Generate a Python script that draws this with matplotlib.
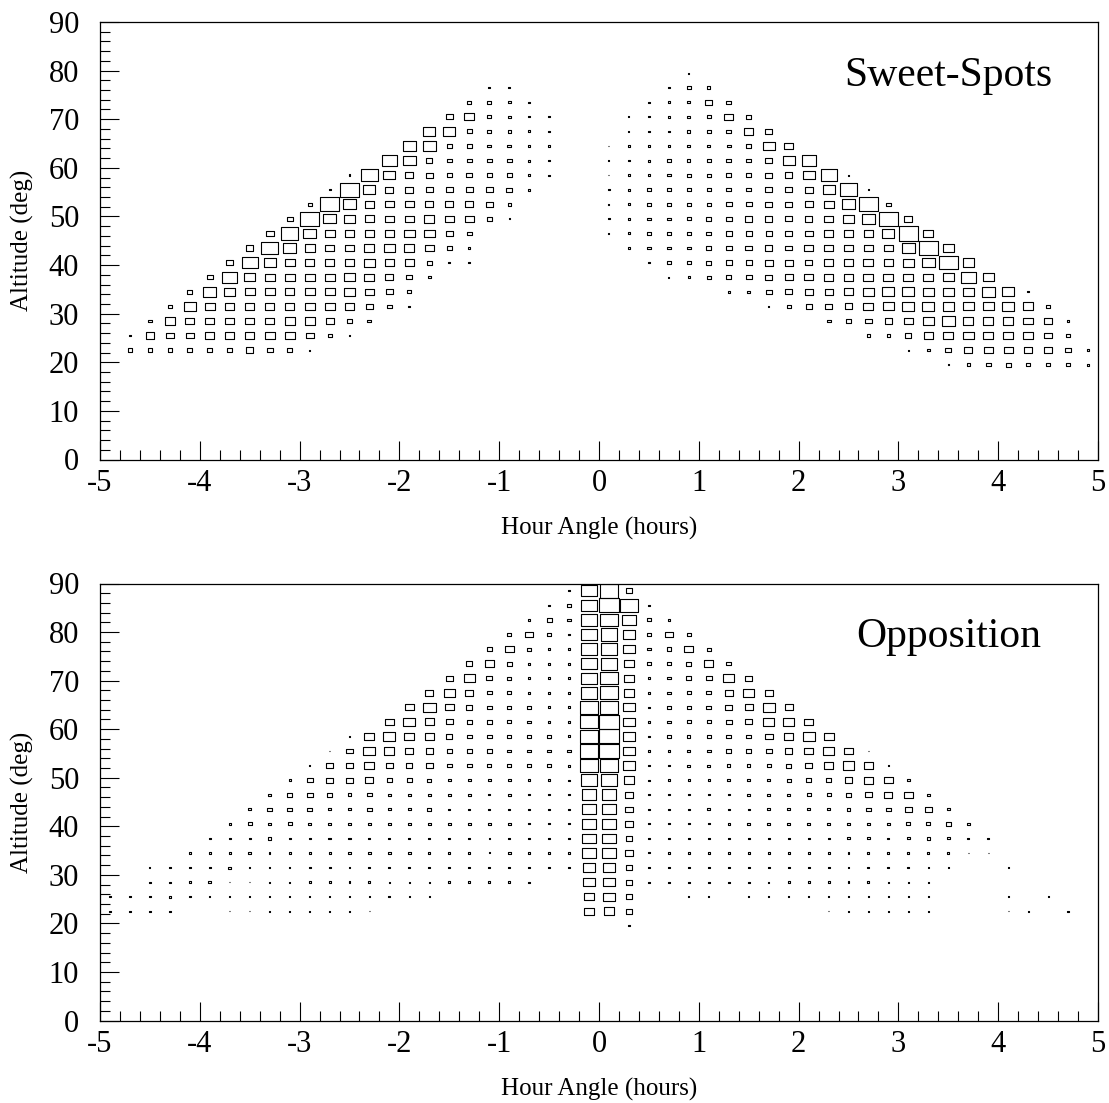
import matplotlib
matplotlib.use("Agg")
import matplotlib.pyplot as plt
from matplotlib.patches import Rectangle
from matplotlib.collections import PatchCollection
from matplotlib.ticker import MultipleLocator

plt.rcParams['font.family'] = ['Liberation Serif', 'DejaVu Serif']
plt.rcParams['axes.unicode_minus'] = False

# Bin geometry of the 2-D histograms
BIN_X = 0.2   # hours
BIN_Y = 3.0   # degrees
VMAX = 60.0   # content that fills a whole bin

# Each segment: (altitude bin centre, first hour-angle bin centre, contents...)
sweet_segments = [
    (19.5, 3.5, [2, 10, 14, 16, 14, 14, 14, 8]),
    (22.5, -4.7, [14, 14, 14, 14, 16, 16, 22, 18, 14, 5]),
    (22.5, 3.1, [5, 10, 18, 24, 26, 26, 24, 24, 18, 6]),
    (25.5, -4.7, [6, 26, 24, 24, 26, 26, 26, 30, 30, 24, 12, 6]),
    (25.5, 2.7, [10, 10, 18, 26, 30, 32, 30, 30, 28, 24, 12]),
    (28.5, -4.5, [12, 30, 26, 28, 26, 28, 28, 30, 30, 24, 18, 12]),
    (28.5, 2.3, [12, 16, 20, 22, 28, 32, 38, 30, 30, 30, 28, 26, 6]),
    (31.5, -4.3, [12, 36, 30, 28, 28, 28, 28, 30, 30, 26, 22, 14, 6]),
    (31.5, 1.7, [3, 12, 18, 22, 24, 30, 32, 36, 36, 34, 32, 32, 36, 32, 10]),
    (34.5, -4.1, [16, 40, 32, 30, 30, 28, 30, 30, 32, 26, 20, 12]),
    (34.5, 1.3, [6, 10, 18, 20, 24, 24, 30, 32, 36, 36, 32, 32, 32, 40, 36, 5]),
    (37.5, -3.9, [18, 44, 34, 30, 30, 30, 30, 32, 30, 24, 18, 10]),
    (37.5, 0.7, [3, 6, 12, 16, 18, 22, 24, 26, 28, 30, 30, 30, 30, 30, 34, 46, 34]),
    (40.5, -3.7, [20, 48, 36, 30, 28, 28, 30, 32, 28, 26, 16, 6, 6]),
    (40.5, 0.5, [5, 12, 12, 16, 18, 18, 24, 24, 22, 26, 28, 30, 28, 32, 38, 56, 34]),
    (43.5, -3.5, [22, 50, 38, 30, 28, 28, 30, 32, 30, 26, 14, 6]),
    (43.5, 0.3, [5, 10, 12, 12, 14, 18, 20, 22, 20, 26, 26, 28, 26, 28, 40, 56, 34]),
    (46.5, -3.3, [24, 52, 38, 30, 28, 28, 26, 32, 32, 22, 14]),
    (46.5, 0.1, [3, 8, 10, 12, 12, 14, 18, 18, 18, 22, 24, 26, 28, 28, 36, 58, 30]),
    (49.5, -3.1, [18, 56, 38, 32, 28, 26, 26, 30, 26, 26, 14, 4]),
    (49.5, 0.1, [4, 8, 10, 10, 12, 14, 18, 22, 22, 20, 22, 26, 32, 40, 58, 24]),
    (52.5, -2.9, [12, 56, 40, 28, 26, 26, 24, 24, 24, 22, 10]),
    (52.5, 0.1, [3, 8, 10, 10, 12, 12, 18, 18, 20, 20, 24, 30, 40, 56, 14]),
    (55.5, -2.7, [6, 56, 36, 24, 24, 22, 20, 22, 20, 18, 8]),
    (55.5, 0.1, [4, 8, 10, 10, 12, 12, 14, 14, 20, 20, 24, 36, 52, 5]),
    (58.5, -2.5, [6, 52, 36, 24, 20, 16, 18, 16, 16, 8, 5]),
    (58.5, 0.1, [3, 6, 8, 10, 12, 12, 14, 16, 20, 22, 36, 48, 4]),
    (61.5, -2.1, [44, 38, 18, 14, 14, 14, 14, 8, 5]),
    (61.5, 0.1, [3, 5, 8, 10, 10, 12, 14, 14, 22, 36, 42]),
    (64.5, -1.9, [38, 38, 16, 14, 12, 12, 8, 5]),
    (64.5, 0.1, [3, 5, 6, 6, 8, 8, 12, 14, 36, 28]),
    (67.5, -1.7, [36, 36, 16, 12, 10, 8, 5]),
    (67.5, 0.3, [3, 5, 6, 10, 12, 14, 28, 22]),
    (70.5, -1.5, [20, 30, 12, 10, 5, 4]),
    (70.5, 0.3, [3, 5, 6, 10, 12, 26, 16]),
    (73.5, -1.3, [12, 12, 8, 5]),
    (73.5, 0.5, [4, 8, 10, 22, 14]),
    (76.5, -1.1, [5, 6]),
    (76.5, 0.7, [4, 12, 10]),
    (79.5, 0.9, [4]),
]

opposition_segments = [
    (19.5, 0.3, [5]),
    (22.5, -4.9, [4, 4, 6, 5, 0, 1, 2, 2, 3, 4, 4, 4, 4, 1]),
    (22.5, -0.1, [28, 32, 20]),
    (22.5, 2.3, [2, 4, 4, 4, 4, 4, 0, 0, 0, 2, 3, 0, 4]),
    (25.5, -4.9, [4, 4, 6, 8, 6, 2, 2, 3, 4, 5, 5, 5, 5, 5, 6, 5, 3]),
    (25.5, -0.1, [30, 34, 20]),
    (25.5, 0.9, [4, 3, 0, 2, 3, 3, 4, 5, 5, 5, 5, 5, 4, 1, 0, 1, 3, 0, 3]),
    (28.5, -4.7, [2, 5, 5, 7, 8, 2, 3, 4, 5, 6, 6, 6, 6, 5, 5, 5, 6, 6, 6, 6, 5, 1]),
    (28.5, -0.1, [36, 36, 20, 4, 5, 5, 5, 5, 5, 5, 6, 6, 6, 6, 6, 5, 5, 5, 0, 0, 1, 0, 1, 1]),
    (31.5, -4.5, [3, 5, 6, 7, 8, 4, 5, 5, 6, 6,
                  6, 6, 6, 6, 6, 6, 6, 6, 6, 6, 6, 6,
                  38, 36, 20, 4,
                  5, 5, 5, 6, 6, 6, 6, 6, 6, 6, 6,
                  6, 6, 5, 4, 0, 0, 2]),
    (34.5, -4.1, [5, 5, 7, 10, 5, 6, 6, 6,
                  7, 8, 8, 8, 6, 5, 6, 4, 8, 6, 6, 8,
                  40, 40, 22, 4,
                  5, 5, 5, 6, 6, 6, 6, 6, 6, 6, 6,
                  6, 6, 6, 6, 3, 2]),
    (37.5, -3.9, [5, 6, 7, 10, 6, 6, 7,
                  7, 6, 6, 6, 6, 5, 6, 4, 6, 6, 6, 6,
                  40, 40, 20, 4,
                  5, 5, 5, 5, 6, 6, 6, 6, 6, 8, 8,
                  6, 8, 10, 8, 6, 5]),
    (40.5, -3.7, [6, 12, 10, 12, 8, 8,
                  8, 10, 10, 10, 10, 10, 10, 10, 10, 5, 4, 4,
                  40, 42, 22, 4,
                  5, 5, 5, 6, 8, 8, 8, 8, 8, 8, 10,
                  10, 12, 12, 14, 10]),
    (43.5, -3.5, [10, 14, 14, 14, 10,
                  8, 14, 8, 8, 12, 6, 6, 6, 6, 5, 5, 4,
                  42, 42, 22, 4,
                  5, 5, 8, 6, 6, 8, 8, 10, 10, 12, 14,
                  14, 20, 22, 10]),
    (46.5, -3.3, [8, 16, 18, 16,
                  12, 14, 10, 10, 10, 10, 8, 6, 8, 5, 5, 5,
                  44, 44, 24, 4,
                  5, 5, 5, 6, 8, 10, 10, 12, 12, 16, 20,
                  24, 26, 8]),
    (49.5, -3.1, [6, 18, 20,
                  20, 24, 16, 14, 12, 10, 10, 8, 8, 8, 8, 5,
                  50, 50, 32, 4,
                  6, 6, 6, 8, 8, 10, 12, 14, 16, 24, 28,
                  26, 8]),
    (52.5, -2.9, [5, 20,
                  24, 30, 20, 18, 20, 14, 14, 12, 12, 10, 10, 8,
                  56, 54, 36, 5,
                  6, 8, 8, 10, 10, 12, 16, 20, 26, 34, 26,
                  5]),
    (55.5, -2.7, [3,
                  20, 36, 30, 24, 22, 16, 16, 14, 12, 12, 12, 10,
                  56, 58, 34, 5,
                  8, 10, 12, 14, 14, 18, 22, 28, 34, 28, 3]),
    (58.5, -2.5, [2, 30, 36, 30, 26, 18, 16, 14, 12, 10, 10, 8,
                  54, 58, 34, 5,
                  10, 10, 12, 14, 16, 24, 28, 36, 30]),
    (61.5, -2.1, [26, 36, 28, 20, 16, 14, 12, 10, 8, 8,
                  54, 58, 34, 6,
                  10, 12, 12, 18, 20, 32, 34, 26]),
    (64.5, -1.9, [26, 38, 26, 18, 14, 12, 10, 8, 8,
                  54, 56, 34, 6,
                  10, 12, 14, 20, 24, 36, 24]),
    (67.5, -1.7, [24, 34, 24, 14, 12, 8, 8, 8,
                  50, 52, 32, 8,
                  10, 12, 14, 24, 34, 24]),
    (70.5, -1.5, [20, 32, 18, 12, 8, 8, 6,
                  46, 52, 30, 6,
                  10, 14, 18, 32, 20]),
    (73.5, -1.3, [18, 28, 16, 8, 8, 8, 46, 50, 30, 10, 12, 16, 28, 14]),
    (76.5, -1.1, [14, 26, 12, 8, 6, 46, 50, 34, 10, 14, 26, 12]),
    (79.5, -0.9, [11, 22, 12, 8, 46, 50, 36, 12, 22, 12]),
    (82.5, -0.7, [7, 15, 10, 46, 52, 40, 12, 8]),
    (85.5, -0.5, [5, 14, 46, 58, 56, 5]),
    (88.5, -0.3, [5, 46, 56, 20]),
]

titles = ["Sweet-Spots", "Opposition"]
x_label = "Hour Angle (hours)"
y_label = "Altitude (deg)"

W, H = 1109, 1103
fig = plt.figure(figsize=(W / 100, H / 100), dpi=100)
ax1 = fig.add_axes([100 / W, (H - 459.5) / H, 998 / W, 437.5 / H])
ax2 = fig.add_axes([100 / W, (H - 1020.5) / H, 998 / W, 437.0 / H])


def draw(ax, segments, title):
    patches = []
    for alt, x0, vals in segments:
        for i, v in enumerate(vals):
            if v <= 0:
                continue
            xc = x0 + i * BIN_X
            w = v / VMAX * BIN_X
            h = v / VMAX * BIN_Y
            patches.append(Rectangle((xc - w / 2, alt - h / 2), w, h))
    ax.add_collection(PatchCollection(patches, facecolor='none',
                                      edgecolor='black', linewidth=0.8))
    ax.set_xlim(-5, 5)
    ax.set_ylim(0, 90)
    ax.xaxis.set_major_locator(MultipleLocator(1))
    ax.xaxis.set_minor_locator(MultipleLocator(0.2))
    ax.yaxis.set_major_locator(MultipleLocator(10))
    ax.yaxis.set_minor_locator(MultipleLocator(2))
    ax.tick_params(which='both', direction='in', top=False, right=False,
                   labelsize=22, width=0.8)
    ax.tick_params(which='major', length=14)
    ax.tick_params(which='minor', length=7)
    ax.tick_params(axis='x', pad=7)
    ax.tick_params(axis='y', pad=15)
    for s in ax.spines.values():
        s.set_linewidth(0.9)
    ax.text(0.5, -0.157, x_label, transform=ax.transAxes, ha='center',
            va='center', fontsize=18)
    ax.text(-0.078, 0.5, y_label, transform=ax.transAxes, ha='center',
            va='center', rotation=90, fontsize=18)
    ax.text(3.5, 79, title, ha='center', va='center', fontsize=30)


draw(ax1, sweet_segments, titles[0])
draw(ax2, opposition_segments, titles[1])

fig.savefig("out.png", dpi=100)
